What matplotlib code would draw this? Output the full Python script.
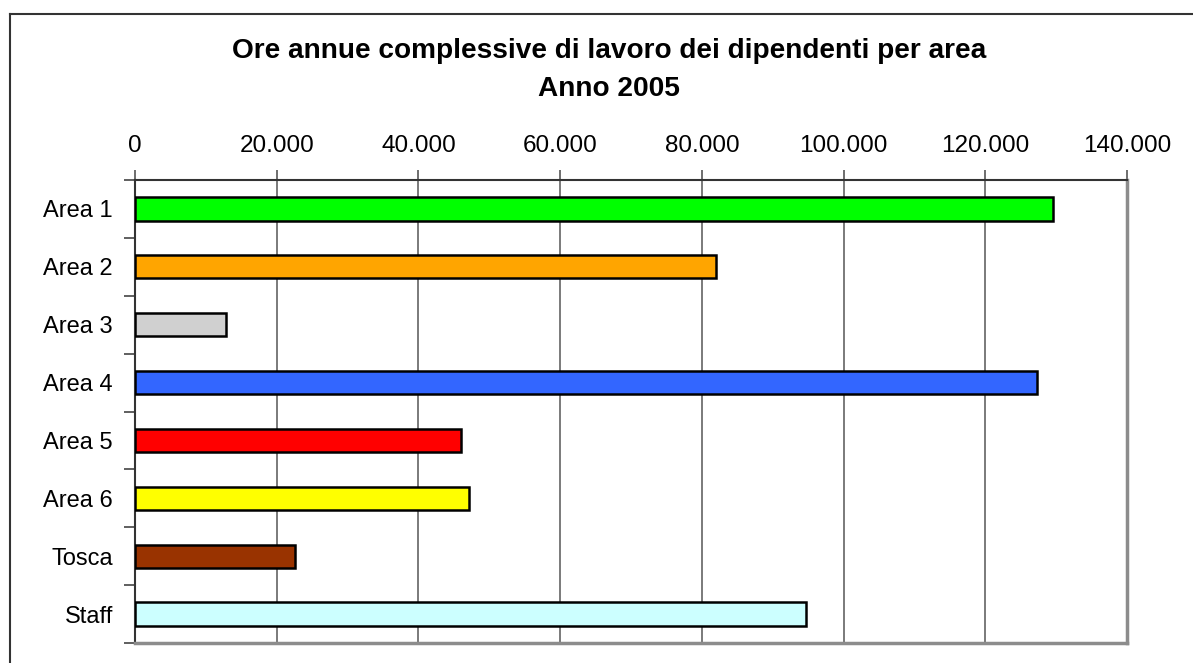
import matplotlib
matplotlib.use("Agg")
import matplotlib.pyplot as plt
from matplotlib.ticker import FuncFormatter, MultipleLocator
from matplotlib.lines import Line2D

categories = ["Area 1", "Area 2", "Area 3", "Area 4", "Area 5", "Area 6", "Tosca", "Staff"]
values = [129600, 82000, 12850, 127350, 46000, 47150, 22550, 94750]
colors = ["#00FF00", "#FFA500", "#D0D0D0", "#3366FF", "#FF0000", "#FFFF00", "#993300", "#CCFFFF"]
title = "Ore annue complessive di lavoro dei dipendenti per area\nAnno 2005"

plt.rcParams['font.family'] = ['Liberation Sans', 'DejaVu Sans']

W, H = 1193, 663
fig = plt.figure(figsize=(W / 100, H / 100), dpi=100)
ax = fig.add_axes([135 / W, 1 - 643 / H, (1127 - 135) / W, (643 - 180) / H])

ypos = list(range(len(categories)))
ax.barh(ypos, values, height=0.4, color=colors, edgecolor="black", linewidth=1.8, zorder=3)

ax.set_xlim(0, 140000)
ax.set_ylim(len(categories) - 0.5, -0.5)
ax.xaxis.set_major_locator(MultipleLocator(20000))
ax.xaxis.set_major_formatter(FuncFormatter(lambda v, p: f"{int(v):,}".replace(",", ".")))
ax.xaxis.tick_top()
ax.tick_params(axis='x', length=7, width=1.2, color="#555555", labelsize=17.5, pad=9.5)
ax.grid(axis='x', color="#707070", linewidth=1.3, zorder=1)

ax.set_yticks(ypos)
ax.set_yticklabels(categories)
ax.tick_params(axis='y', length=0, labelsize=17, pad=16)
ax.set_yticks([i + 0.5 for i in range(-1, len(categories))], minor=True)
ax.tick_params(axis='y', which='minor', length=8, width=1.2, color="#444444")

for s in ["left", "top"]:
    ax.spines[s].set_color("#333333")
    ax.spines[s].set_linewidth(1.5)
for s in ["right", "bottom"]:
    ax.spines[s].set_color("#8C8C8C")
    ax.spines[s].set_linewidth(2.5)

fig.text(609 / W, 1 - 70 / H, title, ha="center", va="center", fontsize=20.2,
         fontweight="bold", linespacing=1.6)

# outer chart border (top and left visible)
fig.add_artist(Line2D([10 / W, 10 / W], [0, 1 - 14 / H], transform=fig.transFigure,
                      color="#333333", linewidth=1.5))
fig.add_artist(Line2D([10 / W, 1], [1 - 14 / H, 1 - 14 / H], transform=fig.transFigure,
                      color="#333333", linewidth=1.5))

fig.savefig("out.png", dpi=100)
